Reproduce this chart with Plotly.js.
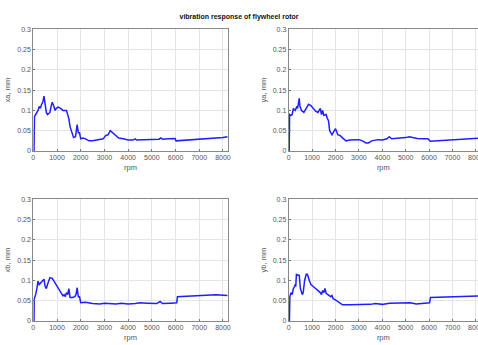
<!DOCTYPE html>
<html><head><meta charset="utf-8">
<script src="https://cdn.plot.ly/plotly-3.0.1.min.js"></script>
<style>html,body{margin:0;padding:0;background:#fff;overflow:hidden;}#c{width:478px;height:345px;}</style>
</head><body><div id="c"></div>
<script>
const xa_rpm = [0,30,50,100,200,250,300,350,400,450,480,550,600,700,750,800,870,920,970,1050,1150,1250,1400,1500,1550,1650,1700,1780,1850,1900,1950,2000,2100,2200,2350,2500,2800,2950,3050,3150,3250,3400,3500,3600,3800,4000,4200,4300,4350,4600,5000,5300,5380,5450,5700,5980,6020,6300,6700,7000,7500,8000,8200];
const xa_val = [0,0,0.085,0.09,0.1,0.11,0.105,0.115,0.12,0.135,0.125,0.095,0.09,0.095,0.11,0.12,0.11,0.1,0.105,0.108,0.105,0.1,0.1,0.08,0.06,0.04,0.033,0.035,0.065,0.045,0.045,0.03,0.032,0.03,0.025,0.025,0.028,0.03,0.038,0.04,0.05,0.042,0.038,0.032,0.03,0.027,0.027,0.03,0.027,0.028,0.028,0.029,0.032,0.029,0.03,0.031,0.025,0.026,0.028,0.029,0.032,0.033,0.035];

const ya_rpm = [0,20,40,100,150,200,280,350,380,420,450,480,550,650,750,850,950,1050,1150,1250,1350,1400,1450,1500,1600,1650,1700,1750,1850,1950,2000,2100,2200,2350,2450,2600,2800,3000,3150,3300,3400,3550,3800,4000,4200,4300,4400,4700,5000,5150,5300,5500,5700,5950,6050,6300,6600,7000,7500,8000,8200];
const ya_val = [0,0,0.09,0.088,0.09,0.105,0.1,0.11,0.105,0.125,0.13,0.11,0.1,0.095,0.105,0.115,0.112,0.105,0.098,0.095,0.105,0.09,0.1,0.088,0.09,0.08,0.075,0.05,0.04,0.05,0.055,0.04,0.038,0.03,0.025,0.027,0.028,0.028,0.025,0.02,0.02,0.025,0.028,0.027,0.03,0.035,0.03,0.031,0.033,0.035,0.033,0.031,0.03,0.03,0.024,0.025,0.027,0.029,0.03,0.032,0.032];

const xb_rpm = [0,30,40,100,150,200,250,330,400,450,500,550,600,650,700,800,900,1000,1100,1200,1250,1300,1350,1400,1450,1500,1550,1650,1750,1800,1850,1900,1950,2000,2200,2500,2800,3000,3300,3500,3700,4000,4300,4500,4800,5200,5350,5450,5800,6050,6080,6500,7000,7700,8200];
const xb_val = [0,0,0.055,0.065,0.08,0.098,0.09,0.095,0.1,0.103,0.085,0.08,0.09,0.1,0.107,0.105,0.095,0.085,0.075,0.068,0.062,0.065,0.06,0.07,0.065,0.08,0.058,0.058,0.06,0.065,0.082,0.06,0.06,0.045,0.046,0.043,0.042,0.044,0.043,0.042,0.044,0.042,0.043,0.045,0.044,0.043,0.048,0.043,0.044,0.045,0.06,0.061,0.063,0.065,0.063];

const yb_rpm = [0,30,50,100,150,200,250,280,300,330,400,450,500,580,620,680,750,800,880,950,1050,1150,1250,1350,1400,1450,1500,1550,1600,1700,1800,1850,1900,2000,2150,2300,2600,3000,3500,3700,4000,4300,4800,5200,5450,5800,6020,6060,6500,7000,7700,8000,8200];
const yb_val = [0,0,0.06,0.07,0.065,0.08,0.085,0.09,0.085,0.115,0.113,0.113,0.08,0.065,0.07,0.1,0.115,0.115,0.1,0.09,0.085,0.08,0.075,0.07,0.065,0.075,0.07,0.08,0.068,0.065,0.06,0.063,0.055,0.052,0.045,0.04,0.04,0.04,0.041,0.043,0.041,0.044,0.044,0.045,0.042,0.044,0.045,0.058,0.059,0.06,0.062,0.063,0.062];

const yLabels = ["xa, mm","ya, mm","xb, mm","yb, mm"];
const yTickVals = [0,0.05,0.1,0.15,0.2,0.25,0.3];
const yTickText = ["0","0.05","0.1","0.15","0.2","0.25","0.3"];
const xTickVals = [0,1000,2000,3000,4000,5000,6000,7000,8000];

const series = [[xa_rpm,xa_val],[ya_rpm,ya_val],[xb_rpm,xb_val],[yb_rpm,yb_val]];
const line = {color:'#1f1fff', width:1.5};
const data = series.map((s,i)=>({x:s[0], y:s[1], type:'scatter', mode:'lines', line:line,
  xaxis: i===0?'x':'x'+(i+1), yaxis: i===0?'y':'y'+(i+1), hoverinfo:'skip'}));

const W=478,H=345;
const tf = {family:'Liberation Sans, Arial, sans-serif', size:7, color:'#555'};
function xax(x0,x1,xmax,anchor){
  return {domain:[x0/W,x1/W], range:[0,xmax], anchor:anchor, tickvals:xTickVals, ticks:'inside', ticklen:2, tickcolor:'#777',
    ticklabeloverflow:'allow',
    showgrid:true, gridcolor:'#e4e4e4', gridwidth:1, zeroline:false, showline:true, linecolor:'#888', linewidth:1, mirror:true,
    tickfont:tf, title:{text:'rpm', font:{family:tf.family,size:7.5,color:'#555'}, standoff:4}};
}
function yax(top,bot,anchor,lab){
  return {domain:[(H-bot)/H,(H-top)/H], range:[0,0.3], anchor:anchor, tickvals:yTickVals, ticktext:yTickText, ticks:'inside', ticklen:2, tickcolor:'#777',
    showgrid:true, gridcolor:'#e4e4e4', gridwidth:1, zeroline:false, showline:true, linecolor:'#888', linewidth:1, mirror:true,
    tickfont:tf, title:{text:lab, font:{family:tf.family,size:7.5,color:'#555'}, standoff:5}};
}
const layout = {
  width:W, height:H, margin:{l:0,r:0,t:0,b:0}, paper_bgcolor:'#fff', plot_bgcolor:'#fff', showlegend:false,
  title:{text:'<b>vibration response of flywheel rotor</b>', font:{family:tf.family,size:7,color:'#111'}, x:0.5, xanchor:'center', y:1-17/H, yanchor:'middle'},
  xaxis: xax(33.3,227.7,8200,'y'),  yaxis: yax(29.3,151,'x',yLabels[0]),
  xaxis2: xax(288.7,478,8090,'y2'), yaxis2: yax(29.3,151,'x2',yLabels[1]),
  xaxis3: xax(33.3,227.7,8200,'y3'), yaxis3: yax(199.3,321,'x3',yLabels[2]),
  xaxis4: xax(288.7,478,8090,'y4'), yaxis4: yax(199.3,321,'x4',yLabels[3])
};
Plotly.newPlot('c', data, layout, {staticPlot:true, displayModeBar:false});
</script></body></html>
